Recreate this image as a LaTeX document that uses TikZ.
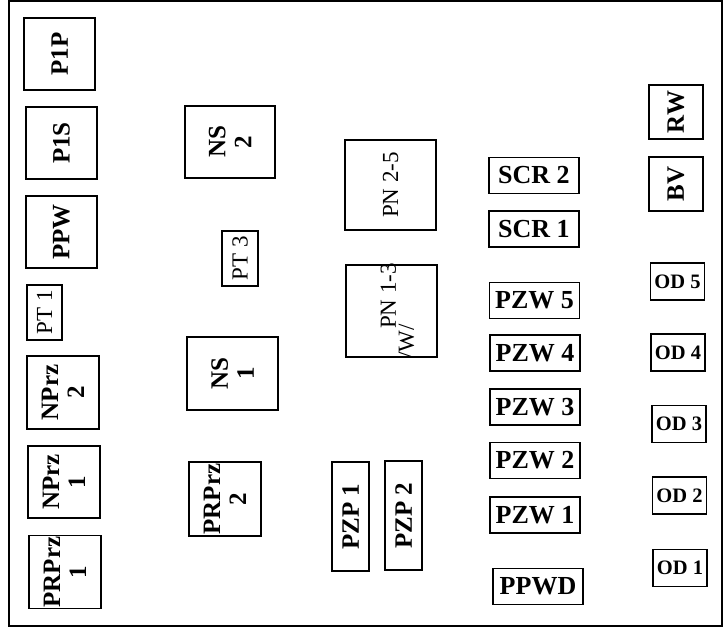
\documentclass[tikz,border=0pt]{standalone}
\usepackage{fontspec}
\setmainfont{Liberation Serif}
\usetikzlibrary{positioning}

\begin{document}
\begin{tikzpicture}[x=1pt, y=-1pt]
\tikzstyle{box}=[draw, line width=1.1pt, inner sep=1pt, align=center, font=\bfseries\fontsize{25}{26}\selectfont]
\tikzstyle{vbox}=[box, rotate=90]
\tikzstyle{thin}=[font=\fontsize{23}{23}\selectfont]
\tikzstyle{hbox}=[box, minimum width=90pt, minimum height=36pt, font=\bfseries\fontsize{26}{26}\selectfont]
\tikzstyle{odbox}=[box, minimum width=54pt, minimum height=37pt, font=\bfseries\fontsize{20.5}{20}\selectfont]
\useasboundingbox (0,0) rectangle (724,628);
\draw[line width=1.1pt] (9,1) rectangle (722,626);
% left column
\node[vbox, minimum width=72pt, minimum height=71pt] (p1p) at (59.5,54) {P1P};
\node[vbox, minimum width=72pt, minimum height=71pt] (p1s) at (61.5,143) {P1S};
\node[vbox, minimum width=72pt, minimum height=71pt] (ppw) at (61.5,232) {PPW};
\node[vbox, thin, minimum width=55pt, minimum height=35pt] (pt1) at (44.5,312.5) {PT 1};
\node[vbox, minimum width=73pt, minimum height=72pt] (nprz2) at (63,392.5) {NPrz\\2};
\node[vbox, minimum width=72pt, minimum height=72pt] (nprz1) at (64,482) {NPrz\\1};
\node[vbox, minimum width=72pt, minimum height=72pt] (prprz1) at (65,572) {PRPrz\\1};
% second column
\node[vbox, minimum width=72pt, minimum height=90pt] (ns2) at (230,142) {NS\\2};
\node[vbox, thin, minimum width=55pt, minimum height=36pt] (pt3) at (240,258.5) {PT 3};
\node[vbox, minimum width=73pt, minimum height=91pt] (ns1) at (232.5,373.5) {NS\\1};
\node[vbox, minimum width=74pt, minimum height=72pt] (prprz2) at (225,499) {PRPrz\\2};
% middle
\node[vbox, thin, minimum width=90pt, minimum height=91pt] (pn25) at (390.5,185) {PN 2-5};
\node[vbox, minimum width=92pt, minimum height=91pt] (pn13) at (391.5,311) {};
\node[xshift=6pt, yshift=0pt, rotate=90, inner sep=0pt, align=left, font=\fontsize{23}{18}\selectfont] (pn13txt) at (pn13) {\hspace*{30pt}PN 1-3\\/W/};
\node[vbox, minimum width=109pt, minimum height=37pt] (pzp1) at (350.5,516.5) {PZP 1};
\node[vbox, minimum width=109pt, minimum height=37pt] (pzp2) at (403.5,515.5) {PZP 2};
% horizontal boxes
\node[hbox] (scr2) at (534,175.5) {SCR 2};
\node[hbox] (scr1) at (534,229) {SCR 1};
\node[hbox] (pzw5) at (534.5,300.5) {PZW 5};
\node[hbox] (pzw4) at (535,353) {PZW 4};
\node[hbox] (pzw3) at (535,407) {PZW 3};
\node[hbox] (pzw2) at (535,460.5) {PZW 2};
\node[hbox] (pzw1) at (535,515) {PZW 1};
\node[hbox] (ppwd) at (538,586.5) {PPWD};
% right column
\node[vbox, minimum width=54pt, minimum height=54pt] (rw) at (676,112) {RW};
\node[vbox, minimum width=54pt, minimum height=54pt] (bv) at (676,184) {BV};
\node[odbox] (od5) at (677.5,281.5) {OD 5};
\node[odbox] (od4) at (678,352.5) {OD 4};
\node[odbox] (od3) at (679,424) {OD 3};
\node[odbox] (od2) at (679.5,495.5) {OD 2};
\node[odbox] (od1) at (680,568) {OD 1};
\end{tikzpicture}
\end{document}
